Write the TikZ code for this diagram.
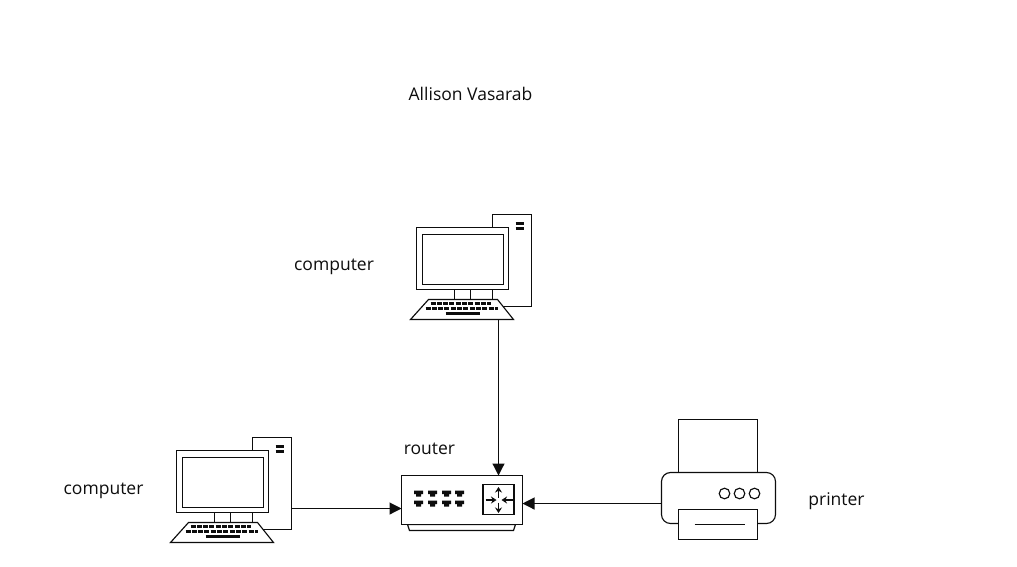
\documentclass[tikz,border=0pt]{standalone}
\usepackage{fontspec}
\setmainfont{Open Sans}
\usetikzlibrary{arrows.meta}
\definecolor{ink}{gray}{0.05}
\tikzset{
  x=1pt,y=-1pt,
  line width=1pt,
  part/.style={draw=ink,fill=white,inner sep=0pt,outer sep=0pt,line width=1.15pt},
  ghost/.style={draw=none,inner sep=0pt,outer sep=0pt},
  label/.style={inner sep=0pt,font=\fontsize{17.5}{20}\selectfont,text=ink},
  line/.style={draw=ink,line width=1.15pt},
  conn/.style={draw=ink,line width=1.15pt,-{Triangle[length=12pt,width=12pt]}},
  mini/.style={draw=ink,line width=1.2pt,-{Stealth[length=5.5pt,width=7pt]}},
  keyrow/.style={draw=ink,line width=3.4pt,dash pattern=on 5pt off 1.3pt},
  computer/.pic={
    \node[part,minimum width=39pt,minimum height=92pt,anchor=north west] (-tower) at (0,0) {};
    \path[part] (-76,13) rectangle (16,75);
    \node[part,minimum width=81pt,minimum height=50pt,anchor=north west] (-screen) at (-70,20) {};
    \path[line] (-38,75) -- (-38,85);
    \path[line] (-22,75) -- (-22,85);
    \path[part] (-64,85) -- (5,85) -- (21,105) -- (-82,105) -- cycle;
    \node[ghost,minimum width=103pt,minimum height=20pt,anchor=north west] (-keys) at (-82,85) {};
    \path[keyrow] (-62,89) -- (-2,89);
    \path[keyrow] (-67,94) -- (5,94);
    \path[draw=ink,line width=3pt] (-47,99) -- (-13,99);
    \path[draw=ink,line width=3pt] (23,8.5) -- (31,8.5);
    \path[draw=ink,line width=3pt] (23,14) -- (31,14);
  }
}
\begin{document}
\begin{tikzpicture}
\useasboundingbox (0,0) rectangle (1017,566);
\node[label] (title) at (470.5,94) {Allison Vasarab};
\node[label] (lc1) at (334,267) {computer};
\node[label] (lc2) at (103.5,491) {computer};
\node[label] (lr) at (429.5,449) {router};
\node[label] (lp) at (836.5,501) {printer};

\begin{scope}[shift={(0.5,0.5)}]
\pic (c1) at (492,214) {computer};
\pic (c2) at (252,437) {computer};

% router
\path[part] (407,524) -- (409,530) -- (513,530) -- (515,524) -- cycle;
\node[part,minimum width=121pt,minimum height=49pt,anchor=north west] (router) at (401,475) {};
\node[part,minimum width=31pt,minimum height=30pt,anchor=north west] (switch) at (482.5,484) {};
\foreach \px in {418,432,446,459} \foreach \py in {493,503} {
  \path[fill=ink] (\px-4.5,\py-3) -- (\px+4.5,\py-3) -- (\px+4.5,\py+0.5) -- (\px+2.5,\py+0.5) -- (\px+2.5,\py+3) -- (\px-2.5,\py+3) -- (\px-2.5,\py+0.5) -- (\px-4.5,\py+0.5) -- cycle;
}
\path[mini] (498,497) -- (498,486.5);
\path[mini] (498,502) -- (498,512.5);
\path[mini] (485,499.5) -- (496,499.5);
\path[mini] (512,499.5) -- (501,499.5);

% printer
\node[part,minimum width=79pt,minimum height=53pt,anchor=north west] (paper) at (678,419) {};
\path[part,rounded corners=9pt] (661,523) -- (661,472) -- (775,472) -- (775,523) -- cycle;
\node[ghost,minimum width=114pt,minimum height=51pt,anchor=north west] (body) at (661,472) {};
\node[part,minimum width=79pt,minimum height=30pt,anchor=north west] (tray) at (678,509) {};
\path[line] (694,524) -- (744,524);
\foreach \cx in {724,739,754} { \path[line] (\cx,493) circle [radius=5.3]; }

% connectors
\coordinate (rleft) at (401,508);
\coordinate (rright) at (522,503);
\path[conn] (c2-tower.east |- rleft) -- (rleft);
\path[conn] (body.west |- rright) -- (rright);
\path[conn] (c1-keys.south -| switch.north) -- (router.north -| switch.north);
\end{scope}
\end{tikzpicture}
\end{document}
